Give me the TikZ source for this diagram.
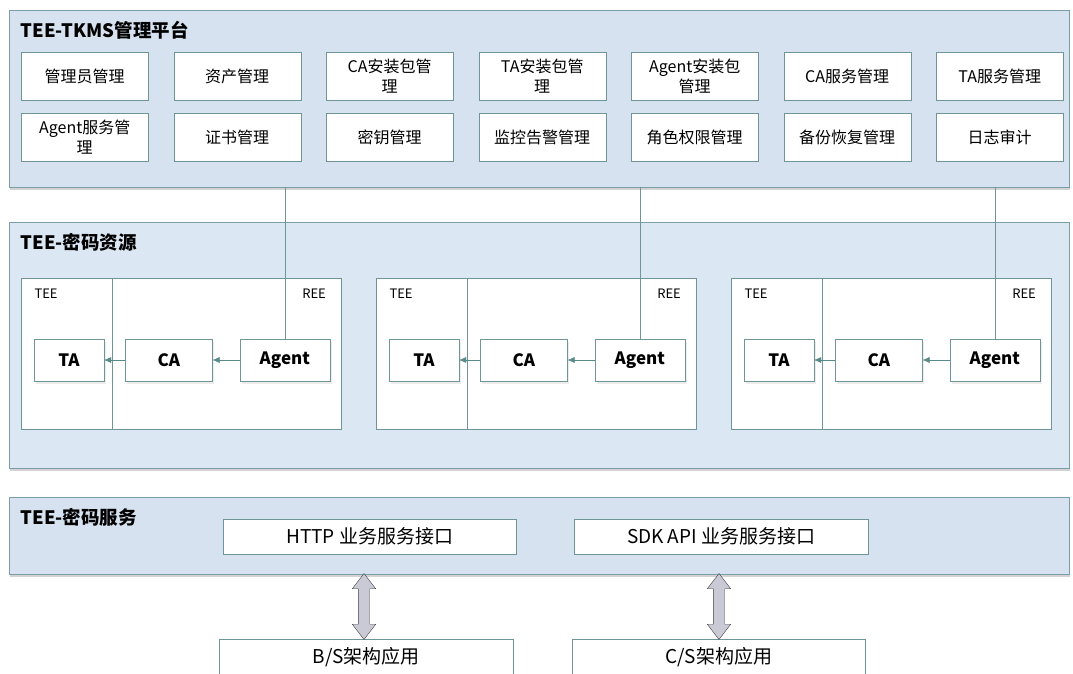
\documentclass[tikz,border=0pt]{standalone}
\usepackage{fontspec}
\setmainfont{Noto Sans CJK SC}
\usepackage{tikz}
\usetikzlibrary{positioning,shadows,shapes.arrows,arrows.meta}

\definecolor{panelblue}{RGB}{214,226,240}
\definecolor{panelblue2}{RGB}{219,232,244}
\definecolor{paneledge}{RGB}{122,157,168}
\definecolor{boxline}{RGB}{110,150,150}
\definecolor{tipcolor}{RGB}{88,138,138}
\definecolor{arrowfill}{RGB}{201,202,214}

\begin{document}
\begin{tikzpicture}[
    x=1pt, y=-1pt,
    >={Latex[length=7pt,width=6pt]},
    font=\fontsize{16}{20}\selectfont,
    panel/.style={
		rectangle,
		draw=paneledge,
		fill=panelblue,
		anchor=north west,
		inner sep=0pt,
		drop shadow={shadow xshift=1pt, shadow yshift=-3pt, opacity=0.35}
	},
    title/.style={
		anchor=west,
		font=\fontsize{18.5}{20}\selectfont\bfseries
	},
    func/.style={
		rectangle,
		draw=boxline,
		fill=white,
		anchor=north west,
		align=center,
		inner sep=1pt,
		minimum width=127pt,
		minimum height=48pt
	},
    env/.style={
		rectangle,
		draw=boxline,
		fill=white,
		anchor=north west,
		inner sep=0pt,
		minimum height=151pt
	},
    envlabel/.style={
		font=\fontsize{13}{14}\selectfont
	},
    comp/.style={
		rectangle,
		draw=boxline,
		fill=white,
		minimum height=42pt,
		font=\fontsize{17}{20}\selectfont\bfseries,
		drop shadow={shadow xshift=2pt, shadow yshift=-3pt, opacity=0.15}
	},
    port/.style={
		rectangle,
		draw=boxline,
		fill=white,
		anchor=north west,
		minimum height=35pt,
		font=\fontsize{19}{20}\selectfont
	},
    fat/.style={
		double arrow,
		draw=black!75,
		fill=arrowfill,
		rotate=90,
		inner xsep=0pt,
		inner ysep=0pt,
		minimum height=66pt,
		double arrow head extend=6pt,
		double arrow tip angle=75
	},
    link/.style={
		draw=tipcolor,
		->
	},
    wire/.style={
		draw=boxline
	}
  ]
  \useasboundingbox (0,0) rectangle (1073,673);

  % the three layers
  \node [panel, minimum width=1060pt, minimum height=177pt] (platform) at (8.5,9.5) {};
  \node [panel, fill=panelblue2, minimum width=1060pt, minimum height=246pt] (resource) at (8.5,222) {};
  \node [panel, minimum width=1060pt, minimum height=77pt] (service) at (8.5,497) {};

  \node [title] (platformtitle) at (17,30) {TEE-TKMS管理平台};
  \node [title] (resourcetitle) at (17,242) {TEE-密码资源};
  \node [title] (servicetitle) at (17,517) {TEE-密码服务};

  % management functions
  \node [func] (admin) at (21,52) {管理员管理};
  \node [func] (asset) at (173.5,52) {资产管理};
  \node [func] (capkg) at (326,52) {CA安装包管\\理};
  \node [func] (tapkg) at (478.5,52) {TA安装包管\\理};
  \node [func] (agentpkg) at (631,52) {Agent安装包\\管理};
  \node [func] (casvc) at (783.5,52) {CA服务管理};
  \node [func] (tasvc) at (936,52) {TA服务管理};

  \node [func] (agentsvc) at (21,113) {Agent服务管\\理};
  \node [func] (cert) at (173.5,113) {证书管理};
  \node [func] (key) at (326,113) {密钥管理};
  \node [func] (monitor) at (478.5,113) {监控告警管理};
  \node [func] (role) at (631,113) {角色权限管理};
  \node [func] (backup) at (783.5,113) {备份恢复管理};
  \node [func] (audit) at (936,113) {日志审计};

  % TEE / REE frames
  \node [env, minimum width=91pt] (tee1) at (21,278) {};
  \node [env, minimum width=229pt] (ree1) at (112,278) {};
  \node [env, minimum width=91pt] (tee2) at (376,278) {};
  \node [env, minimum width=229pt] (ree2) at (467,278) {};
  \node [env, minimum width=91pt] (tee3) at (731,278) {};
  \node [env, minimum width=229pt] (ree3) at (822,278) {};

  \node [envlabel, anchor=north west] (teelabel1) at ([xshift=10pt,yshift=-7pt]tee1.north west) {TEE};
  \node [envlabel, anchor=north east] (reelabel1) at ([xshift=-12pt,yshift=-7pt]ree1.north east) {REE};
  \node [envlabel, anchor=north west] (teelabel2) at ([xshift=10pt,yshift=-7pt]tee2.north west) {TEE};
  \node [envlabel, anchor=north east] (reelabel2) at ([xshift=-12pt,yshift=-7pt]ree2.north east) {REE};
  \node [envlabel, anchor=north west] (teelabel3) at ([xshift=10pt,yshift=-7pt]tee3.north west) {TEE};
  \node [envlabel, anchor=north east] (reelabel3) at ([xshift=-12pt,yshift=-7pt]ree3.north east) {REE};

  % components
  \node [comp, minimum width=70pt] (ta1) at (69,360) {TA};
  \node [comp, minimum width=87pt, right=21pt of ta1] (ca1) {CA};
  \node [comp, minimum width=90pt, right=27pt of ca1] (agent1) {Agent};

  \node [comp, minimum width=70pt] (ta2) at (424,360) {TA};
  \node [comp, minimum width=87pt, right=21pt of ta2] (ca2) {CA};
  \node [comp, minimum width=90pt, right=27pt of ca2] (agent2) {Agent};

  \node [comp, minimum width=70pt] (ta3) at (779,360) {TA};
  \node [comp, minimum width=87pt, right=21pt of ta3] (ca3) {CA};
  \node [comp, minimum width=90pt, right=27pt of ca3] (agent3) {Agent};

  \draw [link] (agent1) -- (ca1);
  \draw [link] (ca1) -- (ta1);
  \draw [link] (agent2) -- (ca2);
  \draw [link] (ca2) -- (ta2);
  \draw [link] (agent3) -- (ca3);
  \draw [link] (ca3) -- (ta3);

  \draw [wire] (platform.south -| agent1.north) -- (agent1.north);
  \draw [wire] (platform.south -| agent2.north) -- (agent2.north);
  \draw [wire] (platform.south -| agent3.north) -- (agent3.north);

  % service interfaces and applications
  \node [port, minimum width=293pt] (http) at (223,519) {HTTP 业务服务接口};
  \node [port, minimum width=294pt] (sdk) at (574,519) {SDK API 业务服务接口};

  \node [port, minimum width=294pt, minimum height=36pt] (bs) at (219,639) {B/S架构应用};
  \node [port, minimum width=293pt, minimum height=36pt] (cs) at (572,639) {C/S架构应用};

  \node [fat] (bsarrow) at (364,606.5) {\rule{0pt}{11pt}};
  \node [fat] (csarrow) at (719,606.5) {\rule{0pt}{11pt}};

\end{tikzpicture}
\end{document}
